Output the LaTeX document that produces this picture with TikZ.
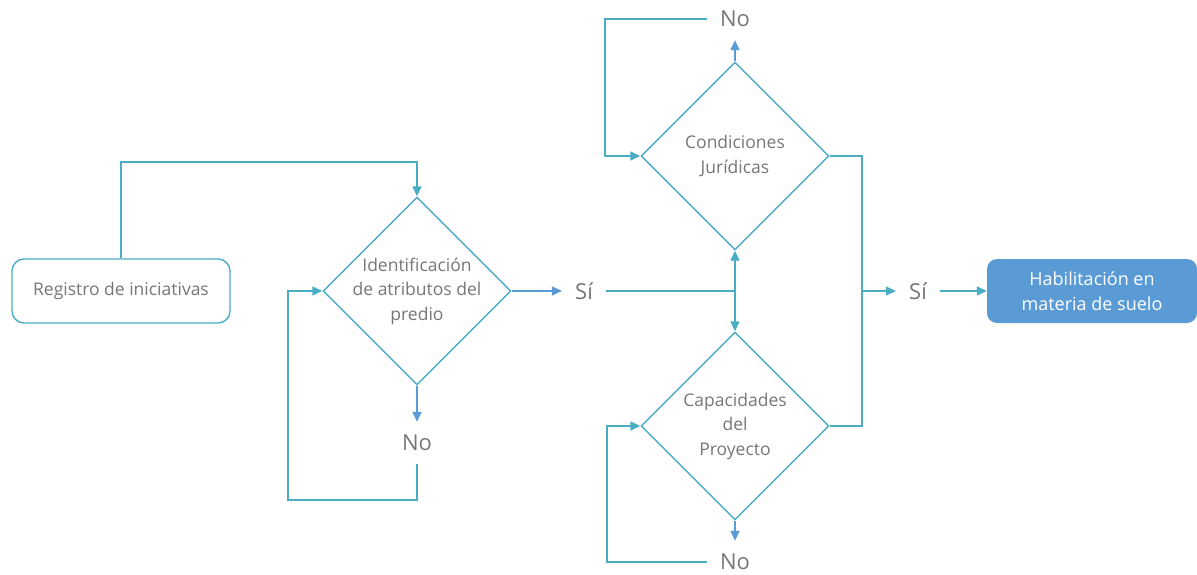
\documentclass[tikz,border=0pt]{standalone}
\usepackage{fontspec}
\setmainfont{Open Sans}
\usetikzlibrary{shapes.geometric,arrows.meta}
\definecolor{ln}{RGB}{75,172,198}
\definecolor{bl}{RGB}{91,155,213}
\definecolor{tx}{RGB}{118,118,118}
\tikzset{
  conn/.style={draw=ln, line width=1.4pt},
  arr/.style={conn, -{Triangle[length=10pt,width=9pt]}},
  barr/.style={draw=bl, line width=1.4pt, -{Triangle[length=10pt,width=9pt]}},
  dec/.style={diamond, draw=ln, line width=1.4pt, minimum width=188pt, minimum height=188pt, inner sep=0pt, aspect=1},
  dtext/.style={text=tx, font=\fontsize{17.5}{24.5}\selectfont, align=center},
  lab/.style={text=tx, font=\fontsize{22}{24}\selectfont, inner sep=13pt},
  stepbox/.style={draw=ln, line width=1.4pt, rounded corners=12pt, minimum width=218pt, minimum height=64pt, text=tx, font=\fontsize{17.5}{20}\selectfont},
  endbox/.style={fill=bl, rounded corners=10pt, minimum width=210pt, minimum height=64pt, text=white, font=\fontsize{18}{24.5}\selectfont, align=center}
}
\begin{document}
\begin{tikzpicture}[x=1pt,y=-1pt]
\useasboundingbox (0,0) rectangle (1197,575);
\node[stepbox] (reg) at (121,291) {Registro de iniciativas};
\node[dec] (d1) at (417,291) {};
\node[dtext] (t1) at (417,291) {Identificación\\de atributos del\\predio};
\node[dec] (d2) at (735,156) {};
\node[dtext] (t2) at (735,156) {Condiciones\\Jurídicas};
\node[dec] (d3) at (735,426) {};
\node[dtext] (t3) at (735,426) {Capacidades\\del\\Proyecto};
\node[endbox] (hab) at (1092,291) {Habilitación en\\materia de suelo};
\node[lab] (no1) at (417,443) {No};
\node[lab] (si1) at (584,291) {Sí};
\node[lab] (no2) at (735,19) {No};
\node[lab] (no3) at (735,562) {No};
\node[lab] (si2) at (918,291) {Sí};
\coordinate (j1) at (735,291);
\coordinate (j2) at (862,291);
% Registro -> d1
\draw[arr] (reg.north) |- (417,162) -- (d1.north);
% d1 -> No
\draw[barr] (d1.south) -- (no1.north);
\draw[arr] (no1.south) |- (288,500) |- (d1.west);
% d1 -> Si
\draw[barr] (d1.east) -- (si1.west);
\draw[conn] (si1.east) -- (j1);
\draw[arr] (j1) -- (d2.south);
\draw[arr] (j1) -- (d3.north);
% d2 -> No
\draw[barr] (d2.north) -- (no2.south);
\draw[arr] (no2.west) -- (605,19) |- (d2.west);
% d3 -> No
\draw[barr] (d3.south) -- (no3.north);
\draw[arr] (no3.west) -- (607,562) |- (d3.west);
% right side
\draw[conn] (d2.east) -| (j2) |- (d3.east);
\draw[arr] (j2) -- (si2.west);
\draw[arr] (si2.east) -- (hab.west);
\end{tikzpicture}
\end{document}
